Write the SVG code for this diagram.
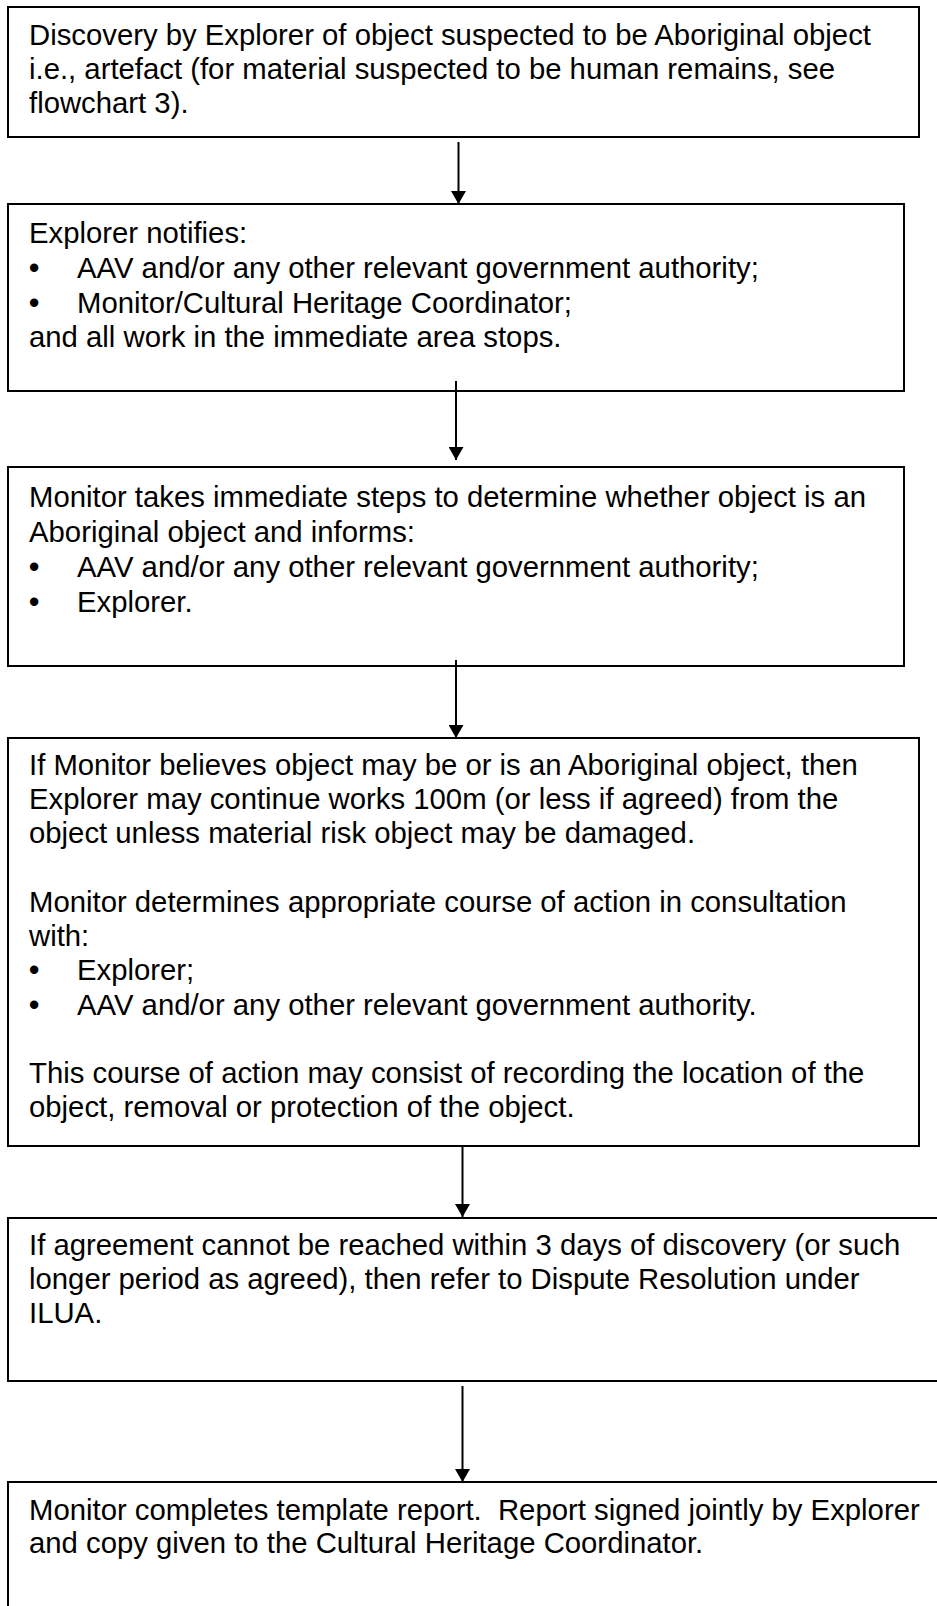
<svg xmlns="http://www.w3.org/2000/svg" width="937" height="1606" viewBox="0 0 937 1606">
<defs>
<marker id="ah" viewBox="0 0 13 15" markerWidth="13" markerHeight="15" refX="13" refY="7.5" orient="auto" markerUnits="userSpaceOnUse">
<path d="M0,0 L13,7.5 L0,15 Z" fill="#000"/>
</marker>
<style>
.box{fill:#fff;stroke:#000;stroke-width:2}
.t{font-family:"Liberation Sans",Arial,sans-serif;font-size:29.3px;fill:#000;white-space:pre}
.b{font-weight:bold}
.c{stroke:#000;stroke-width:2;fill:none}
</style>
</defs>
<rect width="937" height="1606" fill="#fff"/>
<g id="n1">
<rect class="box" x="8" y="7" width="911" height="130"/>
<text class="t" x="29" y="45">Discovery by Explorer of object suspected to be Aboriginal object</text>
<text class="t" x="29" y="79">i.e., artefact (for material suspected to be human remains, see</text>
<text class="t" x="29" y="113">flowchart 3).</text>
</g>
<g id="n2">
<rect class="box" x="8" y="204" width="896" height="187"/>
<text class="t" x="29" y="243">Explorer notifies:</text>
<text class="t" y="278"><tspan class="b" x="29">•</tspan><tspan x="77">AAV and/or any other relevant government authority;</tspan></text>
<text class="t" y="313"><tspan class="b" x="29">•</tspan><tspan x="77">Monitor/Cultural Heritage Coordinator;</tspan></text>
<text class="t" x="29" y="347">and all work in the immediate area stops.</text>
</g>
<g id="n3">
<rect class="box" x="8" y="467" width="896" height="199"/>
<text class="t" x="29" y="507">Monitor takes immediate steps to determine whether object is an</text>
<text class="t" x="29" y="542">Aboriginal object and informs:</text>
<text class="t" y="577"><tspan class="b" x="29">•</tspan><tspan x="77">AAV and/or any other relevant government authority;</tspan></text>
<text class="t" y="612"><tspan class="b" x="29">•</tspan><tspan x="77">Explorer.</tspan></text>
</g>
<g id="n4">
<rect class="box" x="8" y="738" width="911" height="408"/>
<text class="t" x="29" y="775">If Monitor believes object may be or is an Aboriginal object, then</text>
<text class="t" x="29" y="809">Explorer may continue works 100m (or less if agreed) from the</text>
<text class="t" x="29" y="843">object unless material risk object may be damaged.</text>
<text class="t" x="29" y="912">Monitor determines appropriate course of action in consultation</text>
<text class="t" x="29" y="946">with:</text>
<text class="t" y="980"><tspan class="b" x="29">•</tspan><tspan x="77">Explorer;</tspan></text>
<text class="t" y="1015"><tspan class="b" x="29">•</tspan><tspan x="77">AAV and/or any other relevant government authority.</tspan></text>
<text class="t" x="29" y="1083">This course of action may consist of recording the location of the</text>
<text class="t" x="29" y="1117">object, removal or protection of the object.</text>
</g>
<g id="n5">
<rect class="box" x="8" y="1218" width="940" height="163"/>
<text class="t" x="29" y="1255">If agreement cannot be reached within 3 days of discovery (or such</text>
<text class="t" x="29" y="1289">longer period as agreed), then refer to Dispute Resolution under</text>
<text class="t" x="29" y="1323">ILUA.</text>
</g>
<g id="n6">
<rect class="box" x="8" y="1482" width="940" height="140"/>
<text class="t" x="29" y="1520">Monitor completes template report.  Report signed jointly by Explorer</text>
<text class="t" x="29" y="1553">and copy given to the Cultural Heritage Coordinator.</text>
</g>
<g id="connectors">
<line class="c" x1="458.5" y1="142" x2="458.5" y2="204" marker-end="url(#ah)"/>
<line class="c" x1="456" y1="381" x2="456" y2="460" marker-end="url(#ah)"/>
<line class="c" x1="456" y1="660" x2="456" y2="738" marker-end="url(#ah)"/>
<line class="c" x1="462.5" y1="1146" x2="462.5" y2="1217" marker-end="url(#ah)"/>
<line class="c" x1="462.5" y1="1386" x2="462.5" y2="1482" marker-end="url(#ah)"/>
</g>
</svg>
